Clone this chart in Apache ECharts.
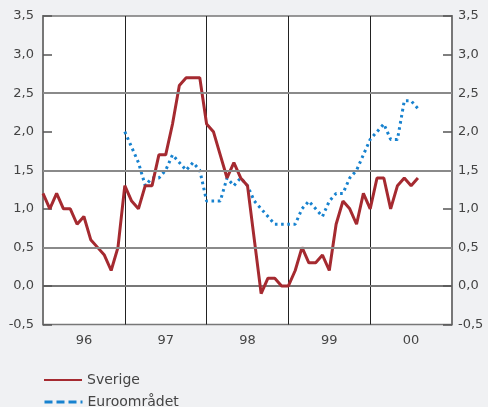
<!DOCTYPE html>
<html>
<head>
<meta charset="utf-8">
<script src="https://cdn.jsdelivr.net/npm/echarts@6/dist/echarts.min.js"></script>
<style>
html,body{margin:0;padding:0;background:#f0f1f3;}
#c{width:488px;height:407px;}
</style>
</head>
<body>
<div id="c"></div>
<script>
// Monthly categories Jan 1996 .. Jan 2001 (axis end)
const years = ['1996','1997','1998','1999','2000'];
const monthNums = ['01','02','03','04','05','06','07','08','09','10','11','12'];
const months = [];
years.forEach(y => monthNums.forEach(m => months.push(y + '-' + m)));
months.push('2001-01');

const yearLabels = ['96','97','98','99','00'];

// Sverige, Jan 1996 .. Aug 2000
const sverige = [
  1.2,1.0,1.2,1.0,1.0,0.8,0.9,0.6,0.5,0.4,0.2,0.5,
  1.3,1.1,1.0,1.3,1.3,1.7,1.7,2.1,2.6,2.7,2.7,2.7,
  2.1,2.0,1.7,1.4,1.6,1.4,1.3,0.6,-0.1,0.1,0.1,0.0,
  0.0,0.2,0.5,0.3,0.3,0.4,0.2,0.8,1.1,1.0,0.8,1.2,
  1.0,1.4,1.4,1.0,1.3,1.4,1.3,1.4
];

// Euroområdet, Jan 1997 .. Aug 2000
const euroStart = '1997-01';
const euro = [
  2.0,1.8,1.6,1.3,1.4,1.4,1.5,1.7,1.6,1.5,1.6,1.5,
  1.1,1.1,1.1,1.4,1.3,1.4,1.3,1.1,1.0,0.9,0.8,0.8,
  0.8,0.8,1.0,1.1,1.0,0.9,1.1,1.2,1.2,1.4,1.5,1.7,
  1.9,2.0,2.1,1.9,1.9,2.4,2.4,2.3
];

const gridLevels = [0.5, 1.5, 2.5];

const euroData = months.map(() => null);
const off = months.indexOf(euroStart);
euro.forEach((v, i) => { euroData[off + i] = v; });

const labelFont = 'DejaVu Sans';
const fmt = v => v.toFixed(1).replace('.', ',');

const yAxisBase = {
  type: 'value', min: -0.5, max: 3.5, interval: 0.5,
  axisLine: { show: true, lineStyle: { color: '#777', width: 2 } },
  axisTick: { show: true, inside: true, length: 9, lineStyle: { color: '#555', width: 1.5 } },
  axisLabel: { formatter: fmt, color: '#444', fontSize: 13, fontFamily: labelFont },
  splitLine: { show: false }
};

const legendBase = {
  orient: 'vertical', left: 38, itemWidth: 38, itemHeight: 3,
  itemStyle: { opacity: 0 },
  textStyle: { color: '#444', fontSize: 14, fontFamily: labelFont }
};

const chart = echarts.init(document.getElementById('c'), null, { renderer: 'canvas' });
chart.setOption({
  backgroundColor: '#f0f1f3',
  animation: false,
  grid: { left: 43, right: 36, top: 16, bottom: 82.5, show: true, backgroundColor: '#ffffff', borderColor: '#777', borderWidth: 1.5 },
  legend: [
    Object.assign({}, legendBase, { top: 368, data: [{ name: 'Sverige' }] }),
    Object.assign({}, legendBase, { top: 390, data: [{ name: 'Euroområdet', lineStyle: { type: [8, 4], width: 3 } }] })
  ],
  xAxis: {
    type: 'category', data: months, boundaryGap: false,
    axisLine: { show: true, lineStyle: { color: '#777', width: 2 } },
    axisTick: { show: false },
    axisLabel: {
      interval: i => i % 12 === 6,
      formatter: v => yearLabels[years.indexOf(v.slice(0, 4))],
      color: '#444', fontSize: 13, fontFamily: labelFont, margin: 10
    },
    splitLine: {
      show: true,
      interval: i => i % 12 === 0 && i > 0 && i < months.length - 1,
      lineStyle: { color: '#222', width: 1 }
    }
  },
  yAxis: [
    Object.assign({}, yAxisBase, { position: 'left', axisLabel: Object.assign({}, yAxisBase.axisLabel, { margin: 9 }) }),
    Object.assign({}, yAxisBase, { position: 'right', axisLabel: Object.assign({}, yAxisBase.axisLabel, { margin: 6 }) })
  ],
  series: [
    {
      name: '_grid', type: 'line', data: [], silent: true, z: 1,
      markLine: {
        silent: true, symbol: ['none', 'none'], label: { show: false },
        lineStyle: { color: '#8a8a8a', width: 2, type: 'solid' },
        data: gridLevels.map(v => ({ yAxis: v }))
      }
    },
    {
      name: 'Euroområdet', type: 'line', data: euroData, symbol: 'none', z: 3,
      connectNulls: false,
      lineStyle: { color: '#1782cf', width: 3, type: [2.6, 3.6] },
      itemStyle: { color: '#1782cf' }
    },
    {
      name: 'Sverige', type: 'line', data: sverige, symbol: 'none', z: 4,
      lineStyle: { color: '#a52a30', width: 3 },
      itemStyle: { color: '#a52a30' }
    }
  ]
});
</script>
</body>
</html>
